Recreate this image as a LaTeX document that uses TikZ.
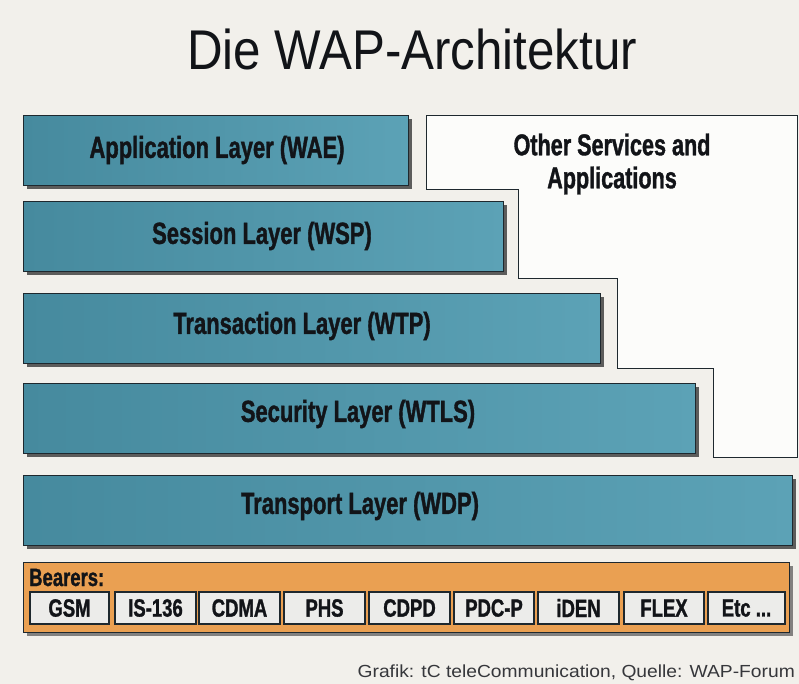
\documentclass[tikz,border=0pt]{standalone}
\usepackage{fontspec}
\setmainfont{Liberation Sans}
\newfontfamily\labfont[FakeStretch=0.72,FakeBold=1.2]{Liberation Sans}
\newfontfamily\bearfont[FakeStretch=0.74,FakeBold=1.2]{Liberation Sans}
\newfontfamily\titlefont[FakeStretch=0.88]{Liberation Sans}
\newfontfamily\creditfont[FakeStretch=1.1]{Liberation Sans}
\usetikzlibrary{shadows}
\definecolor{bgpaper}{RGB}{242,240,235}
\definecolor{layerblue}{RGB}{92,162,182}
\definecolor{layerdark}{RGB}{70,138,158}
\definecolor{edgedark}{RGB}{30,40,46}
\definecolor{textdark}{RGB}{18,20,24}
\definecolor{bearorange}{RGB}{234,160,82}
\definecolor{bearbox}{RGB}{236,236,234}
\definecolor{otherfill}{RGB}{252,252,250}
\tikzset{
  layerbox/.style={draw=edgedark, line width=1.4pt, left color=layerdark, right color=layerblue,
    minimum height=70pt, inner sep=0pt, anchor=north west,
    drop shadow={shadow xshift=3pt, shadow yshift=-3pt, fill=black!70, opacity=0.9}},
  laytext/.style={font=\labfont\bfseries\fontsize{30.5}{32}\selectfont, text=textdark, inner sep=0pt},
  bearframe/.style={draw=edgedark, line width=1.2pt, fill=bearorange, inner sep=0pt, anchor=north west,
    minimum width=766pt, minimum height=70pt,
    drop shadow={shadow xshift=3pt, shadow yshift=-3pt, fill=black!60, opacity=0.8}},
  bearitem/.style={draw=edgedark, line width=1.2pt, fill=bearbox, minimum height=32pt, inner sep=0pt,
    font=\bearfont\bfseries\fontsize{25}{27}\selectfont, text=textdark},
  othershape/.style={draw=edgedark, line width=0.9pt, fill=otherfill}
}
\begin{document}
\begin{tikzpicture}[x=1pt,y=-1pt]
\fill[bgpaper] (0,0) rectangle (799,684);
\useasboundingbox (0,0) rectangle (799,684);

% title
\node[font=\titlefont\fontsize{56}{60}\selectfont, text=textdark, anchor=base, inner sep=0pt] (title) at (412,70) {Die WAP-Architektur};

% other services outline
\draw[othershape] (426,115) -- (797,115) -- (797,457) -- (713,457) -- (713,368) -- (617,368)
  -- (617,278) -- (518,278) -- (518,189) -- (426,189) -- cycle;
\node[laytext, align=center, font=\labfont\bfseries\fontsize{30}{33}\selectfont] (other) at (612,164) {Other Services and\\Applications};

% layers
\node[layerbox, minimum width=385pt] (app) at (23,115) {};
\node[layerbox, minimum width=480pt] (ses) at (23,201) {};
\node[layerbox, minimum width=577pt] (tra) at (23,293) {};
\node[layerbox, minimum width=672pt] (sec) at (23,383) {};
\node[layerbox, minimum width=769pt] (trp) at (23,475) {};

\node[laytext] (appt) at (217,150) {Application Layer (WAE)};
\node[laytext] (sest) at (262,236) {Session Layer (WSP)};
\node[laytext] (trat) at (302,326) {Transaction Layer (WTP)};
\node[laytext] (sect) at (358,414) {Security Layer (WTLS)};
\node[laytext] (trpt) at (360,506) {Transport Layer (WDP)};

% bearers
\node[bearframe] (bear) at (23,562) {};
\node[font=\bearfont\bfseries\fontsize{25}{27}\selectfont, text=textdark, anchor=base west, inner sep=0pt] (beart) at (29,586) {Bearers:};
\node[bearitem, minimum width=79pt] (gsm) at (69.5,608) {GSM};
\node[bearitem, minimum width=81pt] (is) at (155.5,608) {IS-136};
\node[bearitem, minimum width=81pt] (cdma) at (239.5,608) {CDMA};
\node[bearitem, minimum width=81pt] (phs) at (324.5,608) {PHS};
\node[bearitem, minimum width=81pt] (cdpd) at (409.5,608) {CDPD};
\node[bearitem, minimum width=80pt] (pdc) at (494,608) {PDC-P};
\node[bearitem, minimum width=81pt] (iden) at (578.5,608) {iDEN};
\node[bearitem, minimum width=80pt] (flex) at (664,608) {FLEX};
\node[bearitem, minimum width=77pt] (etc) at (746.5,608) {Etc ...};

% credit
\node[font=\creditfont\fontsize{17.5}{20}\selectfont, text=textdark!85, anchor=base east, inner sep=0pt] (credit) at (795,677) {Grafik: tC teleCommunication, Quelle: WAP-Forum};
\end{tikzpicture}
\end{document}
